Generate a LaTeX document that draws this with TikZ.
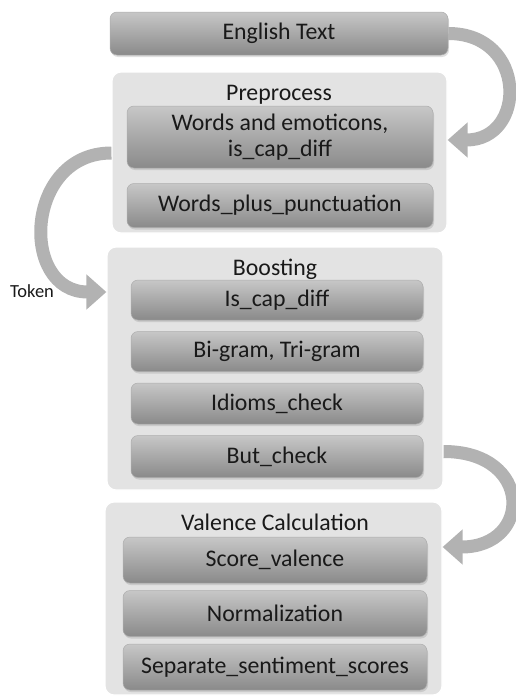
\documentclass[tikz,border=0pt]{standalone}
\usepackage{fontspec}
\setmainfont{Carlito}
\usetikzlibrary{arrows.meta, positioning, shadows, calc}

\begin{document}
\begin{tikzpicture}[
  x=1pt, y=-1pt,
  node distance=11pt,
  font=\fontsize{23.8}{26.5}\selectfont,
  group/.style={rectangle, rounded corners=9pt, draw=white, line width=1.2pt, fill=black!11},
  stage/.style={rectangle, rounded corners=7pt, top color=black!22, bottom color=black!46,
              draw=black!32, line width=0.5pt, text=black!90, text centered,
              minimum width=292pt, minimum height=41pt,
              drop shadow={opacity=0.25, shadow xshift=1pt, shadow yshift=-2pt}},
  caption/.style={anchor=base, text=black!90, inner sep=0pt},
  flow/.style={-{Triangle[width=34pt,length=20pt]}, line width=13pt, draw=black!30}
]
\useasboundingbox (0,0) rectangle (516,696);

% input
\node[stage, minimum width=338pt, minimum height=43pt] (english) at (279,33.5) {English Text};

% preprocess
\node[group, minimum width=335pt, minimum height=161pt] (prep) at (279.5,152.5) {};
\node[caption] (preptitle) at (279,100) {Preprocess};
\node[stage, minimum width=306pt, minimum height=62pt, align=center] (emo) at (280,137)
  {Words and emoticons,\\is\_cap\_diff};
\node[stage, minimum width=306pt, minimum height=44pt, below=15pt of emo] (punct) {Words\_plus\_punctuation};

% boosting
\node[group, minimum width=336pt, minimum height=243pt] (boost) at (275,368.5) {};
\node[caption] (boosttitle) at (275,275) {Boosting};
\node[stage, minimum height=40pt] (iscap) at (277,300) {Is\_cap\_diff};
\node[stage, minimum height=40pt, below=of iscap]  (ngram)    {Bi-gram, Tri-gram};
\node[stage, minimum height=41pt, below=of ngram]  (idioms)   {Idioms\_check};
\node[stage, minimum height=42pt, below=of idioms] (butcheck) {But\_check};

% valence
\node[group, minimum width=337pt, minimum height=193pt] (valence) at (273.5,598.5) {};
\node[caption] (valtitle) at (275,530) {Valence Calculation};
\node[stage, minimum width=304pt, minimum height=46pt] (score) at (275,560) {Score\_valence};
\node[stage, minimum width=304pt, minimum height=46pt, below=7pt of score] (norm) {Normalization};
\node[stage, minimum width=304pt, minimum height=46pt, below=7pt of norm]  (separate) {Separate\_sentiment\_scores};

\node[text=black!90, font=\fontsize{18.5}{21}\selectfont] (token) at (32,291) {Token};

\coordinate (prepin)   at ($(prep.east |- emo.center)+(0,3)$);
\coordinate (tokenout) at ($(prep.west |- emo.center)+(0,16)$);
\coordinate (tokenin)  at ($(boost.west |- iscap.center)+(0,-8)$);
\coordinate (butout)   at ($(boost.east |- butcheck.center)+(0,-5)$);
\coordinate (valin)    at ($(valence.east |- score.center)+(0,-13)$);

\draw[flow] (english.east) to[out=0, in=0, looseness=1.9] (prepin);
\draw[flow] (tokenout) to[out=180, in=180, looseness=1.6] (tokenin);
\draw[flow] (butout) to[out=0, in=0, looseness=2.4] (valin);
\end{tikzpicture}
\end{document}
